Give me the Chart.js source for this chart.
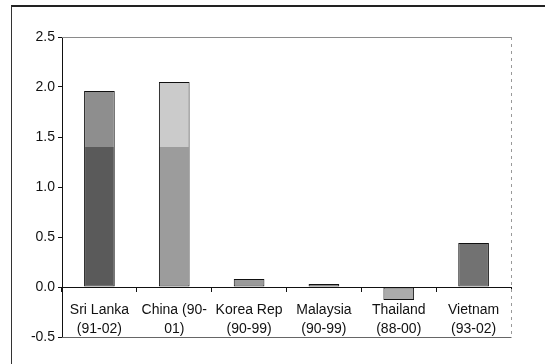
<!DOCTYPE html>
<html>
<head>
<meta charset="utf-8">
<script src="https://cdn.jsdelivr.net/npm/chart.js@4/dist/chart.umd.min.js"></script>
<style>
  html, body { margin: 0; padding: 0; background: #fff; }
  #wrap { position: relative; width: 545px; height: 364px; overflow: hidden; }
  #frame { position: absolute; left: 11px; top: 5px; width: 560px; height: 400px;
           border-top: 2px solid #222; border-left: 1px solid #333; }
  #c { position: absolute; left: 0; top: 0; }
</style>
</head>
<body>
<div id="wrap">
  <div id="frame"></div>
  <canvas id="c" width="545" height="364"></canvas>
</div>
<script>
// Countries with the survey periods shown under each bar
const categories = [
  ['Sri Lanka', '(91-02)'],
  ['China (90-', '01)'],
  ['Korea Rep', '(90-99)'],
  ['Malaysia', '(90-99)'],
  ['Thailand', '(88-00)'],
  ['Vietnam', '(93-02)']
];
// Lower segment of each bar
const baseValues = [1.40, 1.40, 0.08, 0.03, -0.13, 0.44];
// Upper segment (only two countries have one)
const extraValues = [0.56, 0.65, null, null, null, null];
// Y axis range and step
const yTicks = { min: -0.5, max: 2.5, step: 0.5 };

const baseColors  = ['#5a5a5a', '#9c9c9c', '#9a9a9a', '#8c8c8c', '#ababab', '#727272'];
const extraColors = ['#8e8e8e', '#cbcbcb', '#cccccc', '#cccccc', '#cccccc', '#cccccc'];

const family = '"Liberation Sans", Arial, sans-serif';
const labelFont = { family: family, size: 14, lineHeight: 1.36 };
const valueFont = { family: family, size: 14 };

// Grey frame around the plot area (top, right, bottom)
const plotFrame = {
  id: 'plotFrame',
  afterDraw(chart) {
    const { ctx, chartArea: a } = chart;
    ctx.save();
    ctx.lineWidth = 1;
    ctx.strokeStyle = '#8a8a8a';
    ctx.beginPath();
    ctx.moveTo(a.left, a.top + 0.5);
    ctx.lineTo(a.right + 0.5, a.top + 0.5);
    ctx.stroke();
    ctx.strokeStyle = '#666';
    ctx.beginPath();
    ctx.moveTo(a.left, a.bottom + 0.5);
    ctx.lineTo(a.right + 0.5, a.bottom + 0.5);
    ctx.stroke();
    ctx.setLineDash([3, 4]);
    ctx.strokeStyle = '#999';
    ctx.beginPath();
    ctx.moveTo(a.right + 0.5, a.top);
    ctx.lineTo(a.right + 0.5, a.bottom);
    ctx.stroke();
    ctx.restore();
  }
};

new Chart(document.getElementById('c'), {
  type: 'bar',
  data: {
    labels: categories,
    datasets: [
      {
        data: baseValues,
        backgroundColor: baseColors,
        borderColor: '#111',
        borderWidth: 1,
        borderSkipped: (ctx) => extraValues[ctx.dataIndex] != null ? 'end' : false
      },
      {
        data: extraValues,
        backgroundColor: extraColors,
        borderColor: '#111',
        borderWidth: 1,
        borderSkipped: 'start'
      }
    ]
  },
  options: {
    responsive: false,
    animation: false,
    events: [],
    layout: { padding: { left: 0, top: 37, right: 34, bottom: 27 } },
    datasets: { bar: { categoryPercentage: 1, barPercentage: 0.41 } },
    plugins: { legend: { display: false }, tooltip: { enabled: false } },
    scales: {
      x: {
        stacked: true,
        position: { y: 0 },
        afterFit(scale) { scale.height = 0; },
        offset: true,
        grid: { offset: true, drawOnChartArea: false, drawTicks: true, tickLength: 4, color: '#111' },
        border: { display: true, color: '#111', width: 1 },
        ticks: { color: '#111', font: labelFont, padding: 10, maxRotation: 0, autoSkip: false }
      },
      y: {
        stacked: true,
        min: yTicks.min,
        max: yTicks.max,
        afterFit(scale) { scale.width = 62; },
        grid: { drawOnChartArea: false, drawTicks: true, tickLength: 4, color: '#111' },
        border: { display: true, color: '#111', width: 1 },
        ticks: {
          stepSize: yTicks.step,
          color: '#111',
          font: valueFont,
          padding: 3,
          callback: (v) => Number(v).toFixed(1)
        }
      }
    }
  },
  plugins: [plotFrame]
});
</script>
</body>
</html>
